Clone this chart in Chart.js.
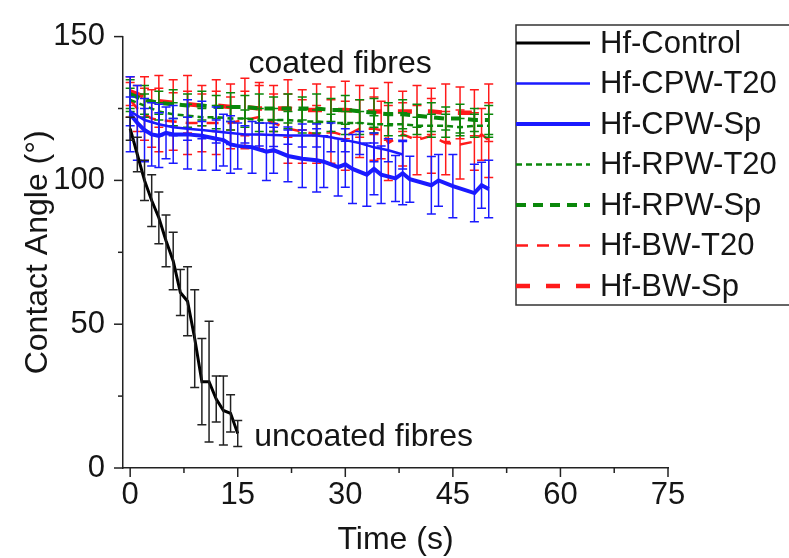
<!DOCTYPE html>
<html><head><meta charset="utf-8">
<script src="https://cdn.jsdelivr.net/npm/chart.js@4.4.1/dist/chart.umd.min.js"></script>
<style>html,body{margin:0;padding:0;background:#fff;}#wrap{width:789px;height:558px;position:relative;overflow:hidden;}</style>
</head><body><div id="wrap"><canvas id="c" width="789" height="558"></canvas></div>
<script>
// ---- axes ----
const xMajorTicks = [0, 15, 30, 45, 60, 75];
const xMinorTicks = [7.5, 22.5, 37.5, 52.5, 67.5];
const yMajorTicks = [0, 50, 100, 150];
const yMinorTicks = [25, 75, 125];

// ---- series ----
const seriesLabels = ['Hf-Control','Hf-CPW-T20','Hf-CPW-Sp','Hf-RPW-T20','Hf-RPW-Sp','Hf-BW-T20','Hf-BW-Sp'];

const ctrlT   = [0,1,2,3,4,5,6,7,8,9,10,11,12,13,14,15];
const ctrlY   = [118,109,100,93,87,79,72,61,58,45,30,30,24,20,19,12];
const ctrlErr = [4,6,7,9,9,9,10,8,12,17,15,21,8,12,6.5,4.5];

const cpwT20T   = [0,2,4,6,8,10,12,14,16,18,20,22,24,26,28,30,32,34,36,38];
const cpwT20Y   = [124,121,119.5,118.5,118,117.5,117,116.5,116,116,115.8,115.6,115.6,115.6,115,114,113,111.5,110.5,109];
const cpwT20Err = [5,4,4,3,4,3,4,4,3,4,4,3,4,4,5,4,4,5,4,5];

const cpwSpT   = [0,1,2,3,4,5,6,8,10,12,13,14,15,17,19,20,22,24,26,27,29,30,31,33,34,35,37,38,39,42,43,45,48,49,50];
const cpwSpY   = [123,120,117.5,116,115.5,116.5,116,116,115.5,114.5,114,112.5,112,111.5,110,110.5,108.5,107.5,107,106.5,104.6,105.6,104,102,104,102,100.7,102.5,100.4,98.3,100,98,95.6,98.3,97];
const cpwSpErr = [13,13,11,11,11,9,10,12,12,11,9,10,8,9,10,8,9,10,11,9,10,8,12,11,9,10,8,11,8,10,9,11,10,8,10];

const rpwT20T   = [0,2,4,6,8,10,12,14,16,18,20,22,24,26,28,30,32,34,36,38,40,42,44,46,48,50];
const rpwT20Y   = [128,126,124,123,122.5,122,122,121.5,121.5,121,121,121,120.5,120.5,120,120,120,119.5,119.5,119.5,119,119,119,118.5,119,119];
const rpwT20Err = [4,4,3,4,4,3,4,4,3,4,4,3,4,4,3,4,4,3,4,4,3,4,4,3,4,4];

const rpwSpT   = [0,2,4,6,8,10,12,14,16,18,20,22,24,26,28,30,32,34,36,38,40,42,44,46,48,50];
const rpwSpY   = [130,128,127,126.5,126,126,125.5,125.5,125.5,125,125,125,125,125,124.5,124.5,124,123.5,123,123,122.5,122,121.5,121.5,121,121];
const rpwSpErr = [5,5,4,5,4,5,4,5,4,5,4,5,4,5,4,5,4,5,4,5,4,5,4,5,4,5];

const bwT20T   = [0,1,2,3,4,6,8,10,12,14,16,18,20,22,24,26,28,30,32,34,35,36,38,40,42,44,46,48,49,50];
const bwT20Y   = [128,125,123,121.5,121,120.5,120,120,120,120,121,122,120,118,117,116,117,115.5,118,118,117.5,113,116,114,115.5,113,112.5,113.5,116,114];
const bwT20Err = [6,8,9,10,11,10,11,10,11,9,10,11,10,12,11,10,11,12,10,11,10,13,11,12,13,11,12,10,9,13];

const bwSpT   = [0,2,4,6,8,10,12,14,16,18,20,22,24,26,28,30,32,34,36,38,40,42,44,46,48,50];
const bwSpY   = [131,129,127.5,127,126.5,126,126,125.5,125.5,125,125,125,124.5,124.5,124.5,124.5,124,124,124,124,124,124,123.5,123.5,123.5,123.5];
const bwSpErr = [5,7,9,8,10,7,9,8,10,9,8,10,7,9,8,10,9,8,10,7,9,8,10,9,8,10];

const annotations = [
  {text:'coated fibres', x:16.5, y:140.5},
  {text:'uncoated fibres', x:17.3, y:10.7}
];

const FONT = '"Liberation Sans", Arial, sans-serif';
const TXT = '#151515';

function pts(t, v){ return t.map((x,i)=>({x:x, y:v[i]})); }
function ds(label, t, v, err, color, width, dash, errColor){
  return {label, data: pts(t,v), errors: err, borderColor: color, backgroundColor: color,
    borderWidth: width, borderDash: dash, pointRadius: 0, tension: 0, fill: false,
    errColor: errColor || color};
}

const datasets = [
  ds(seriesLabels[0], ctrlT, ctrlY, ctrlErr, '#000000', 3, [], '#222222'),
  ds(seriesLabels[1], cpwT20T, cpwT20Y, cpwT20Err, '#1a1aff', 2.5, []),
  ds(seriesLabels[2], cpwSpT, cpwSpY, cpwSpErr, '#1a1aff', 4, []),
  ds(seriesLabels[3], rpwT20T, rpwT20Y, rpwT20Err, '#0a870a', 2.5, [6,4]),
  ds(seriesLabels[4], rpwSpT, rpwSpY, rpwSpErr, '#0a870a', 4, [10,7]),
  ds(seriesLabels[5], bwT20T, bwT20Y, bwT20Err, '#ff1a1a', 2.5, [12,9]),
  ds(seriesLabels[6], bwSpT, bwSpY, bwSpErr, '#ff1a1a', 4.5, [14,16])
];

const errorBars = {
  id: 'errorBars',
  afterDatasetDraw(chart, args){
    const d = chart.data.datasets[args.index];
    if (!d.errors) return;
    const {ctx, chartArea: a} = chart;
    const xs = chart.scales.x, ys = chart.scales.y;
    ctx.save();
    ctx.beginPath(); ctx.rect(a.left, a.top - 5, a.right - a.left, a.bottom - a.top + 5); ctx.clip();
    ctx.strokeStyle = d.errColor; ctx.lineWidth = 1.5; ctx.setLineDash([]);
    d.data.forEach((p, i) => {
      const e = d.errors[i];
      const px = xs.getPixelForValue(p.x);
      const t = ys.getPixelForValue(p.y + e), b = ys.getPixelForValue(p.y - e);
      ctx.beginPath();
      ctx.moveTo(px, t); ctx.lineTo(px, b);
      ctx.moveTo(px - 4.5, t); ctx.lineTo(px + 4.5, t);
      ctx.moveTo(px - 4.5, b); ctx.lineTo(px + 4.5, b);
      ctx.stroke();
    });
    ctx.restore();
  }
};

const decor = {
  id: 'decor',
  afterDraw(chart){
    const {ctx, chartArea: a} = chart;
    const xs = chart.scales.x, ys = chart.scales.y;
    ctx.save();
    ctx.strokeStyle = '#222'; ctx.lineWidth = 1.5; ctx.setLineDash([]);
    const tick = (x1,y1,x2,y2)=>{ctx.beginPath();ctx.moveTo(x1,y1);ctx.lineTo(x2,y2);ctx.stroke();};
    xMajorTicks.forEach(v=>{const p=xs.getPixelForValue(v); tick(p,a.bottom,p,a.bottom+9);});
    xMinorTicks.forEach(v=>{const p=xs.getPixelForValue(v); tick(p,a.bottom,p,a.bottom+5);});
    yMajorTicks.forEach(v=>{const p=ys.getPixelForValue(v); tick(a.left,p,a.left-9,p);});
    yMinorTicks.forEach(v=>{const p=ys.getPixelForValue(v); tick(a.left,p,a.left-5,p);});
    // annotations
    ctx.fillStyle = TXT; ctx.font = '32px ' + FONT; ctx.textAlign = 'left'; ctx.textBaseline = 'middle';
    annotations.forEach(an => ctx.fillText(an.text, xs.getPixelForValue(an.x), ys.getPixelForValue(an.y)));
    // legend
    const L = 516, T = 25, B = 305, rowY0 = 43, rowStep = 40.5;
    ctx.fillStyle = '#fff'; ctx.fillRect(L, T, 789 - L + 10, B - T);
    ctx.strokeStyle = '#333'; ctx.lineWidth = 1.5; ctx.strokeRect(L, T, 789 - L + 10, B - T);
    chart.data.datasets.forEach((d, i) => {
      const y = rowY0 + i * rowStep;
      ctx.strokeStyle = d.borderColor; ctx.lineWidth = d.borderWidth; ctx.setLineDash(d.borderDash || []);
      ctx.beginPath(); ctx.moveTo(L, y); ctx.lineTo(590, y); ctx.stroke();
      ctx.setLineDash([]);
      ctx.fillStyle = TXT; ctx.font = '31px ' + FONT; ctx.textBaseline = 'middle';
      ctx.fillText(d.label, 600, y + 1);
    });
    ctx.restore();
  }
};

new Chart(document.getElementById('c'), {
  type: 'line',
  data: { datasets },
  options: {
    responsive: false, animation: false, devicePixelRatio: 1,
    layout: { padding: { top: 34, right: 121, left: 0, bottom: 0 } },
    plugins: { legend: { display: false }, tooltip: { enabled: false } },
    scales: {
      x: {
        type: 'linear', min: -1, max: 75,
        afterBuildTicks: s => { s.ticks = xMajorTicks.map(v => ({value: v})); },
        afterFit: s => { s.height = 90; },
        grid: { display: false, drawTicks: false },
        border: { display: true, color: '#222', width: 1.5 },
        ticks: { color: TXT, font: { family: FONT, size: 31 }, padding: 9, maxRotation: 0, autoSkip: false },
        title: { display: true, text: 'Time (s)', color: TXT, font: { family: FONT, size: 32, lineHeight: 1 }, padding: { top: 0, bottom: 2 } }
      },
      y: {
        type: 'linear', min: 0, max: 150,
        afterBuildTicks: s => { s.ticks = yMajorTicks.map(v => ({value: v})); },
        afterFit: s => { s.width = 123; },
        grid: { display: false, drawTicks: false },
        border: { display: true, color: '#222', width: 1.5 },
        ticks: { color: TXT, font: { family: FONT, size: 31 }, padding: 18, autoSkip: false },
        title: { display: true, text: 'Contact Angle (°)', color: TXT, font: { family: FONT, size: 32, lineHeight: 1 }, padding: { top: 22, bottom: 0 } }
      }
    }
  },
  plugins: [errorBars, decor]
});
</script>
</body></html>
